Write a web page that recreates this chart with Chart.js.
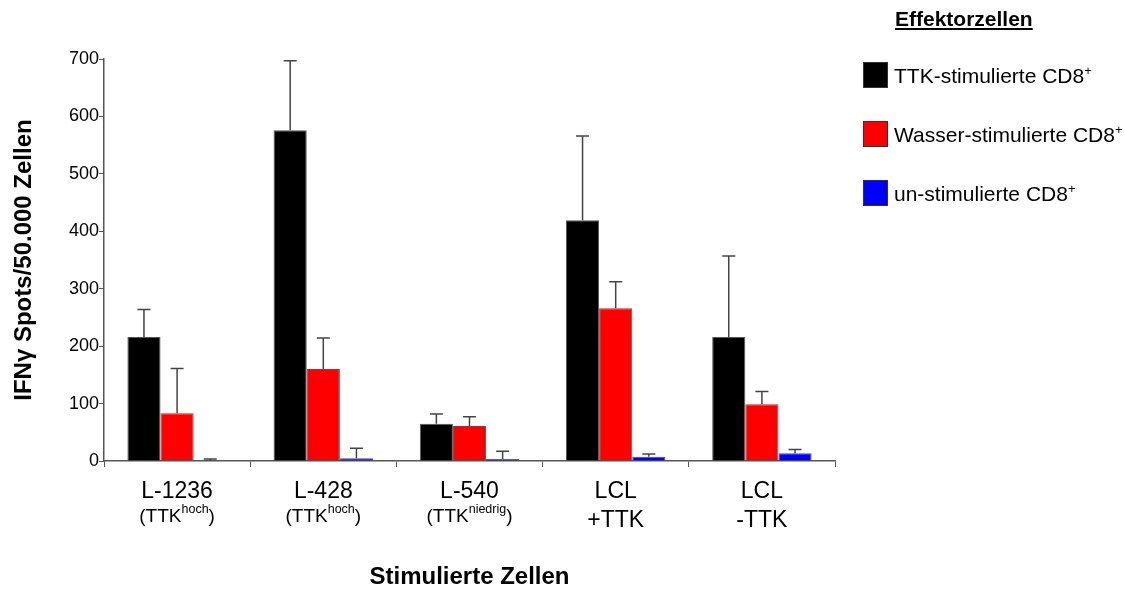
<!DOCTYPE html>
<html>
<head>
<meta charset="utf-8">
<script src="https://cdn.jsdelivr.net/npm/chart.js@4.4.1/dist/chart.umd.min.js"></script>
<style>
  html, body { margin: 0; padding: 0; background: #fff; }
  #wrap { position: relative; width: 1125px; height: 592px; }
  #c { position: absolute; left: 0; top: 0; }
  #legend { position: absolute; left: 855px; top: 0; width: 270px; font-family: "Liberation Sans", Arial, sans-serif; color: #000; }
  #legend .title { position: absolute; left: 40px; top: 7px; font-weight: bold; font-size: 21px; text-decoration: underline; }
  #legend .item { position: absolute; left: 8px; height: 26px; display: flex; align-items: center; font-size: 21px; white-space: nowrap; }
  #legend .box { width: 25px; height: 26px; border: 1px solid #333; margin-right: 6px; box-sizing: border-box; }
</style>
</head>
<body>
<div id="wrap">
  <canvas id="c" width="1125" height="592"></canvas>
  <div id="legend"></div>
</div>
<script>
// ---- data ----
const line1Labels = ['L-1236', 'L-428', 'L-540', 'LCL', 'LCL'];
const line2Main   = ['(TTK', '(TTK', '(TTK', '+TTK', '-TTK'];
const line2Sup    = ['hoch', 'hoch', 'niedrig', '', ''];
const line2Tail   = [')', ')', ')', '', ''];
const seriesNames = ['TTK-stimulierte CD8', 'Wasser-stimulierte CD8', 'un-stimulierte CD8'];
const ttkValues    = [216, 576, 65, 419, 216];
const ttkErrors    = [48, 121, 17, 147, 141];
const wasserValues = [83, 160, 61, 266, 99];
const wasserErrors = [78, 54, 16, 46, 22];
const unValues     = [0.5, 5, 3.5, 7.5, 13.5];
const unErrors     = [3, 17, 13.5, 4.5, 6.5];
const yTicks = [0, 100, 200, 300, 400, 500, 600, 700];
const yTitle = 'IFNγ Spots/50.000 Zellen';
const xTitle = 'Stimulierte Zellen';
const legendTitle = 'Effektorzellen';

const colors = ['#000000', '#ff0000', '#0000ff'];
const FONT = '"Liberation Sans", Arial, sans-serif';

// legend (HTML)
const lg = document.getElementById('legend');
const t = document.createElement('div');
t.className = 'title'; t.textContent = legendTitle; lg.appendChild(t);
const itemTops = [62, 121, 180];
seriesNames.forEach((n, i) => {
  const d = document.createElement('div');
  d.className = 'item'; d.style.top = itemTops[i] + 'px';
  const b = document.createElement('div'); b.className = 'box'; b.style.background = colors[i];
  const s = document.createElement('span'); s.innerHTML = n + '<sup style="font-size:13px">+</sup>';
  d.appendChild(b); d.appendChild(s); lg.appendChild(d);
});

const errorSets = [ttkErrors, wasserErrors, unErrors];

const errorBarPlugin = {
  id: 'errorBars',
  afterDatasetsDraw(chart) {
    const ctx = chart.ctx;
    const ys = chart.scales.y;
    ctx.save();
    ctx.strokeStyle = '#444';
    ctx.lineWidth = 1.5;
    chart.data.datasets.forEach((ds, di) => {
      const meta = chart.getDatasetMeta(di);
      meta.data.forEach((bar, i) => {
        const v = ds.data[i];
        const e = errorSets[di][i];
        const yTop = ys.getPixelForValue(v + e);
        const yBar = ys.getPixelForValue(v);
        ctx.beginPath();
        ctx.moveTo(bar.x, yBar);
        ctx.lineTo(bar.x, yTop);
        ctx.moveTo(bar.x - 6.5, yTop);
        ctx.lineTo(bar.x + 6.5, yTop);
        ctx.stroke();
      });
    });
    ctx.restore();
  }
};

const xLabelPlugin = {
  id: 'xLabels',
  afterDraw(chart) {
    const ctx = chart.ctx;
    const xs = chart.scales.x;
    ctx.save();
    ctx.fillStyle = '#000';
    ctx.textBaseline = 'alphabetic';
    line1Labels.forEach((l1, i) => {
      const cx = xs.getPixelForValue(i);
      ctx.font = '23px ' + FONT;
      ctx.textAlign = 'center';
      ctx.fillText(l1, cx, 498);
      if (line2Sup[i]) {
        const mainF = '19px ' + FONT, supF = '12.5px ' + FONT;
        ctx.font = mainF; const w1 = ctx.measureText(line2Main[i]).width;
        const w3 = ctx.measureText(line2Tail[i]).width;
        ctx.font = supF; const w2 = ctx.measureText(line2Sup[i]).width;
        let x = cx - (w1 + w2 + w3) / 2;
        ctx.textAlign = 'left';
        ctx.font = mainF; ctx.fillText(line2Main[i], x, 522); x += w1;
        ctx.font = supF; ctx.fillText(line2Sup[i], x, 513); x += w2;
        ctx.font = mainF; ctx.fillText(line2Tail[i], x, 522);
      } else {
        ctx.font = '23px ' + FONT;
        ctx.textAlign = 'center';
        ctx.fillText(line2Main[i], cx, 527);
      }
    });
    ctx.restore();
  }
};

new Chart(document.getElementById('c'), {
  type: 'bar',
  data: {
    labels: line1Labels,
    datasets: [
      { label: seriesNames[0], data: ttkValues, backgroundColor: colors[0] },
      { label: seriesNames[1], data: wasserValues, backgroundColor: colors[1] },
      { label: seriesNames[2], data: unValues, backgroundColor: colors[2] }
    ].map(d => Object.assign(d, { borderColor: '#555', borderWidth: 1, barPercentage: 1.0, categoryPercentage: 0.68 }))
  },
  options: {
    responsive: false,
    animation: false,
    devicePixelRatio: 1,
    layout: { padding: { top: 59, right: 290, left: 0, bottom: 0 } },
    plugins: { legend: { display: false }, tooltip: { enabled: false } },
    scales: {
      x: {
        offset: true,
        grid: { offset: true, drawOnChartArea: false, drawTicks: true, tickLength: 6, color: '#555', lineWidth: 1 },
        border: { color: '#555', width: 1.5 },
        ticks: { display: false },
        title: { display: true, text: xTitle, font: { family: FONT, size: 24, weight: 'bold' }, color: '#000', padding: { top: 0, bottom: 0 } },
        afterFit(scale) { scale.height = 131; }
      },
      y: {
        min: 0, max: 700,
        afterBuildTicks(scale) { scale.ticks = yTicks.map(v => ({ value: v })); },
        grid: { drawOnChartArea: false, drawTicks: true, tickLength: 5, color: '#555', lineWidth: 1 },
        border: { color: '#555', width: 1.5 },
        ticks: { font: { family: FONT, size: 18 }, color: '#000', padding: 0 },
        title: { display: true, text: yTitle, font: { family: FONT, size: 24, weight: 'bold' }, color: '#000', padding: { top: 10, bottom: 0 } },
        afterFit(scale) { scale.width = 104; }
      }
    }
  },
  plugins: [errorBarPlugin, xLabelPlugin]
});
</script>
</body>
</html>
